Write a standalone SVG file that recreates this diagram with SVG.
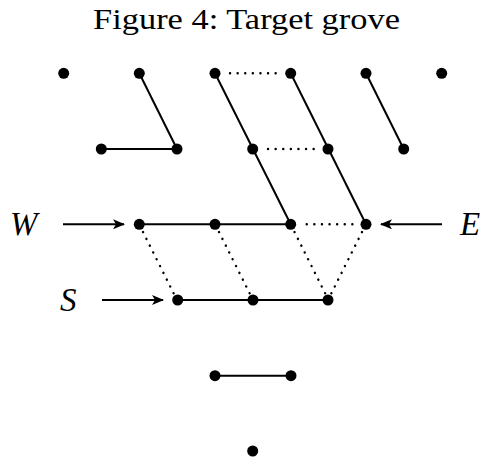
<svg xmlns="http://www.w3.org/2000/svg" width="482" height="462" viewBox="0 0 482 462">
<style>
.dot{fill:#000}
.s{stroke:#000;stroke-width:2;fill:none}
.d{stroke:#000;stroke-width:2.4;fill:none;stroke-dasharray:0.1 7.5;stroke-linecap:round}
.a{stroke:#000;stroke-width:2;fill:none;marker-end:url(#ah)}
.t{font-family:"Liberation Serif",serif;fill:#000}
.it{font-family:"Liberation Serif",serif;font-style:italic;fill:#000;font-size:33px}
</style>
<defs>
<marker id="ah" markerWidth="12" markerHeight="10" refX="11" refY="5" orient="auto" markerUnits="userSpaceOnUse">
<path d="M0,0 L12,5 L0,10 L3,5 Z" fill="#000"/>
</marker>
</defs>
<rect width="482" height="462" fill="#fff"/>
<text class="t" x="93" y="28.5" font-size="29" textLength="307" lengthAdjust="spacingAndGlyphs">Figure 4: Target grove</text>
<g id="connectors">
<line class="s" x1="139.3" y1="73.3" x2="177" y2="149"/>
<line class="s" x1="101.3" y1="149" x2="177" y2="149"/>
<line class="s" x1="215" y1="73.3" x2="290.7" y2="224.3"/>
<line class="s" x1="290.7" y1="73.3" x2="366" y2="224.3"/>
<line class="s" x1="366" y1="73.3" x2="403.7" y2="149"/>
<line class="s" x1="139.3" y1="224.3" x2="290.7" y2="224.3"/>
<line class="s" x1="177.7" y1="300" x2="328" y2="300"/>
<line class="s" x1="215" y1="375.7" x2="291" y2="375.7"/>
<line class="d" x1="230" y1="73.3" x2="276" y2="73.3"/>
<line class="d" x1="268" y1="149" x2="314" y2="149"/>
<line class="d" x1="306.7" y1="224.3" x2="352.7" y2="224.3"/>
<line class="d" x1="143" y1="232" x2="174" y2="294"/>
<line class="d" x1="219" y1="232" x2="250" y2="294"/>
<line class="d" x1="294.5" y1="232" x2="325.5" y2="294"/>
<line class="d" x1="362" y1="232" x2="331" y2="294"/>
<line class="a" x1="63" y1="224.3" x2="124" y2="224.3"/>
<line class="a" x1="442" y1="224.3" x2="381" y2="224.3"/>
<line class="a" x1="102" y1="300" x2="163" y2="300"/>
</g>
<g id="labels">
<text class="it" x="10" y="235">W</text>
<text class="it" x="460" y="235">E</text>
<text class="it" x="60" y="311">S</text>
</g>
<g id="nodes">
<circle id="n1" class="dot" cx="63.7" cy="73.3" r="5.5"/>
<circle id="n2" class="dot" cx="139.3" cy="73.3" r="5.5"/>
<circle id="n3" class="dot" cx="215" cy="73.3" r="5.5"/>
<circle id="n4" class="dot" cx="290.7" cy="73.3" r="5.5"/>
<circle id="n5" class="dot" cx="366" cy="73.3" r="5.5"/>
<circle id="n6" class="dot" cx="441.7" cy="73.3" r="5.5"/>
<circle id="n7" class="dot" cx="101.3" cy="149" r="5.5"/>
<circle id="n8" class="dot" cx="177" cy="149" r="5.5"/>
<circle id="n9" class="dot" cx="252.7" cy="149" r="5.5"/>
<circle id="n10" class="dot" cx="328" cy="149" r="5.5"/>
<circle id="n11" class="dot" cx="403.7" cy="149" r="5.5"/>
<circle id="n12" class="dot" cx="139.3" cy="224.3" r="5.5"/>
<circle id="n13" class="dot" cx="215" cy="224.3" r="5.5"/>
<circle id="n14" class="dot" cx="290.7" cy="224.3" r="5.5"/>
<circle id="n15" class="dot" cx="366" cy="224.3" r="5.5"/>
<circle id="n16" class="dot" cx="177.7" cy="300" r="5.5"/>
<circle id="n17" class="dot" cx="253" cy="300" r="5.5"/>
<circle id="n18" class="dot" cx="328" cy="300" r="5.5"/>
<circle id="n19" class="dot" cx="215" cy="375.7" r="5.5"/>
<circle id="n20" class="dot" cx="291" cy="375.7" r="5.5"/>
<circle id="n21" class="dot" cx="252.7" cy="451" r="5.5"/>
</g>
</svg>
